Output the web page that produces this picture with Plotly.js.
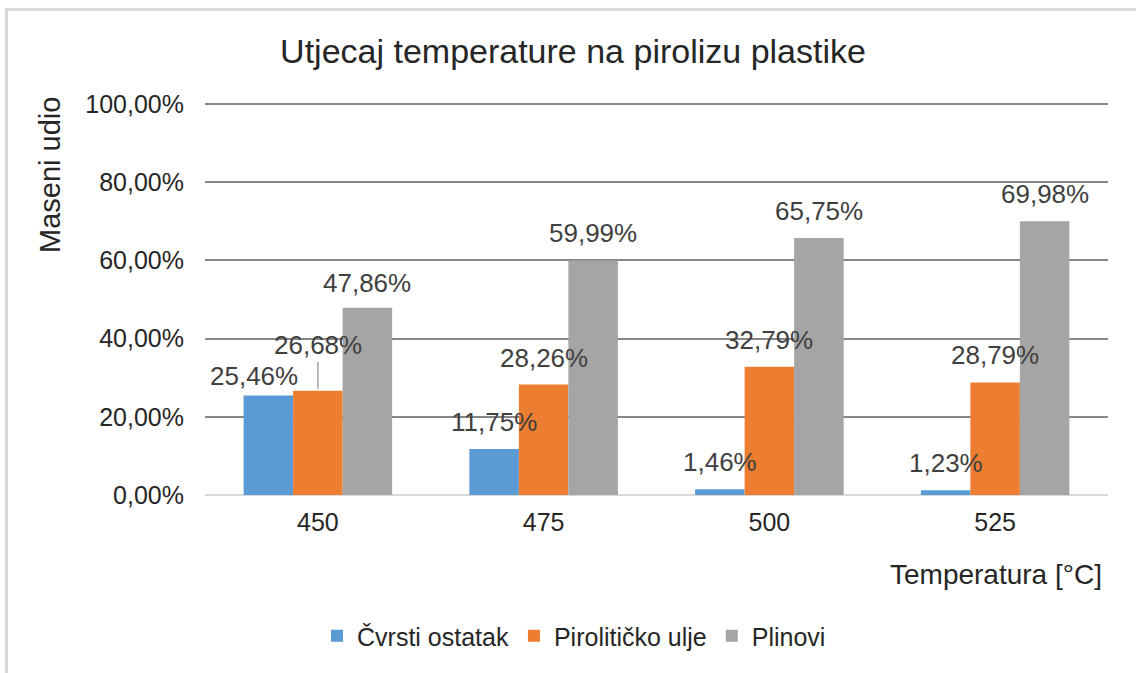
<!DOCTYPE html>
<html>
<head>
<meta charset="utf-8">
<script src="https://cdn.plot.ly/plotly-3.0.1.min.js"></script>
<style>
  html, body { margin: 0; padding: 0; background: #ffffff; }
  #wrap { position: relative; width: 1136px; height: 673px; overflow: hidden; }
  #chart { position: absolute; left: 0; top: 0; width: 1136px; height: 673px; }
  #frame { position: absolute; left: 5px; top: 8px; right: -10px; bottom: -10px;
           border-left: 3px solid #d9d9d9; border-top: 3px solid #d9d9d9; pointer-events: none; }
</style>
</head>
<body>
<div id="wrap"><div id="chart"></div><div id="frame"></div></div>
<script>
// ---- data ----
const categories = ['450', '475', '500', '525'];
const seriesNames = ['Čvrsti ostatak', 'Pirolitičko ulje', 'Plinovi'];
const cvrstiOstatak = [25.46, 11.75, 1.46, 1.23];
const piroliticko = [26.68, 28.26, 32.79, 28.79];
const plinovi = [47.86, 59.99, 65.75, 69.98];
const yTickVals = [0, 20, 40, 60, 80, 100];

// ---- styling / layout constants ----
const colors = ['#5B9BD5', '#ED7D31', '#A5A5A5'];
const W = 1136, H = 673;
const M = { l: 205, r: 28, t: 102, b: 178 };
const yMax = 100.51;               // a hair above 100 so the top gridline is drawn
const bargap = 0.342;
const FONT = 'Liberation Sans, Arial, Helvetica, sans-serif';
const plotW = W - M.l - M.r, plotH = H - M.t - M.b;
const barPx = plotW / categories.length * (1 - bargap) / seriesNames.length;

// label offset tweaks (pixels) for labels Excel moved to avoid overlap
const labelTweak = { '0-0': [-14, -8], '1-0': [0, 19], '2-0': [0, -2] };

const allSeries = [cvrstiOstatak, piroliticko, plinovi];
const fmt = v => v.toFixed(2).replace('.', ',') + '%';

const traces = allSeries.map((vals, i) => ({
  type: 'bar',
  name: seriesNames[i],
  x: categories,
  y: vals,
  marker: { color: colors[i], line: { width: 0 } },
  hoverinfo: 'none'
}));

const annotations = [];
allSeries.forEach((vals, i) => {
  vals.forEach((v, j) => {
    const tw = labelTweak[i + '-' + j] || [0, 0];
    annotations.push({
      xref: 'x', yref: 'y', x: j, y: v,
      xshift: (i - 1) * barPx + tw[0], yshift: 27 + tw[1],
      xanchor: 'center', yanchor: 'middle',
      text: fmt(v), showarrow: false,
      font: { family: FONT, size: 26, color: '#404040' }
    });
  });
});
annotations.push({
  xref: 'paper', yref: 'paper', x: (50 - M.l) / plotW, y: (H - M.b - 175) / plotH,
  xanchor: 'center', yanchor: 'middle', textangle: -90, showarrow: false,
  text: 'Maseni udio', font: { family: FONT, size: 29, color: '#262626' }
});
annotations.push({
  xref: 'paper', yref: 'paper', x: (1104 - M.l) / plotW, y: -(574 - (H - M.b)) / plotH,
  xanchor: 'right', yanchor: 'middle', showarrow: false,
  text: 'Temperatura [°C]', font: { family: FONT, size: 28, color: '#262626' }
});

const shapes = [{
  type: 'line', xref: 'x', yref: 'y', ysizemode: 'pixel',
  x0: 0, x1: 0, yanchor: piroliticko[0], y0: 2, y1: 29,
  line: { color: '#a6a6a6', width: 1.5 }
}];

const layout = {
  width: W, height: H,
  margin: { l: M.l, r: M.r, t: M.t, b: M.b, pad: 0 },
  paper_bgcolor: '#ffffff', plot_bgcolor: '#ffffff',
  font: { family: FONT, size: 25, color: '#262626' },
  separators: ',.',
  title: {
    text: 'Utjecaj temperature na pirolizu plastike',
    font: { family: FONT, size: 34, color: '#262626' },
    xref: 'container', x: 573 / W, xanchor: 'center',
    yref: 'container', y: 1 - 51 / H, yanchor: 'middle'
  },
  barmode: 'group', bargap: bargap, bargroupgap: 0,
  xaxis: {
    type: 'category', categoryorder: 'array', categoryarray: categories,
    range: [-0.5, categories.length - 0.5],
    showgrid: false, showline: false, zeroline: false, ticks: '',
    tickfont: { family: FONT, size: 25, color: '#262626' },
    ticklabelstandoff: 10, fixedrange: true
  },
  yaxis: {
    range: [0, yMax], tickmode: 'array', tickvals: yTickVals, ticktext: yTickVals.map(fmt),
    showgrid: true, gridcolor: '#878787', gridwidth: 2,
    zeroline: true, zerolinecolor: '#d9d9d9', zerolinewidth: 2,
    showline: false, ticks: '',
    tickfont: { family: FONT, size: 25, color: '#262626' },
    ticklabelstandoff: 20, fixedrange: true
  },
  showlegend: true,
  legend: {
    orientation: 'h', xref: 'container', yref: 'container',
    x: 574 / W, xanchor: 'center', y: 1 - 636 / H, yanchor: 'middle',
    font: { family: FONT, size: 25, color: '#262626' },
    itemwidth: 30, traceorder: 'normal', bgcolor: 'rgba(0,0,0,0)'
  },
  annotations: annotations,
  shapes: shapes,
  hovermode: false
};

Plotly.newPlot('chart', traces, layout, { displayModeBar: false, staticPlot: true });
</script>
</body>
</html>
